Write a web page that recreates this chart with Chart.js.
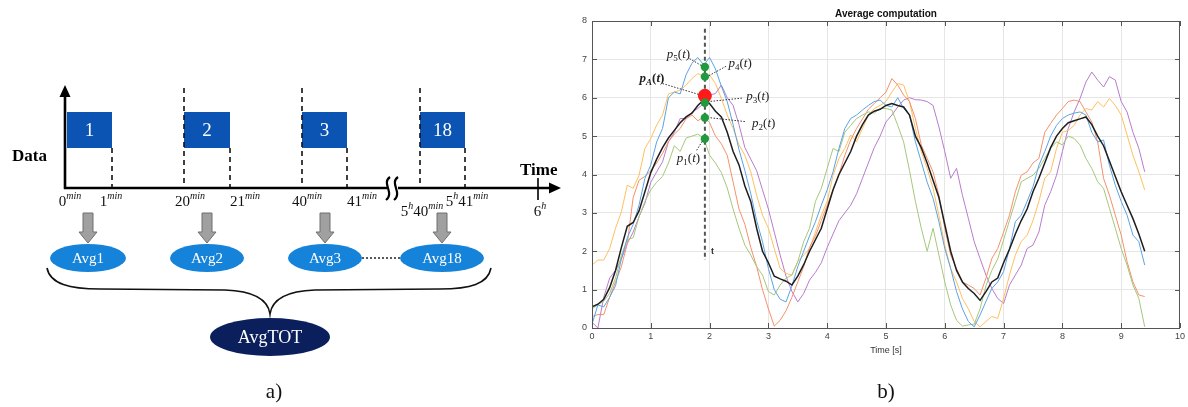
<!DOCTYPE html>
<html>
<head>
<meta charset="utf-8">
<script src="https://cdn.jsdelivr.net/npm/chart.js@4.4.1/dist/chart.umd.min.js"></script>
<style>
  html, body { margin: 0; padding: 0; background: #fff; }
  canvas { display: block; }
</style>
</head>
<body>
<canvas id="myChart" width="1188" height="407"></canvas>
<script>
// sampling step of the curves, seconds
const dt = 0.1;

// values, one per 0.1 s from 0 to 9.4 s
const avgValues = [
  0.55, 0.62, 0.75, 1.05, 1.5, 2.1, 2.65, 2.75, 3.05, 3.55,
  4.05, 4.4, 4.7, 4.95, 5.15, 5.35, 5.5, 5.6, 5.8, 5.95,
  5.85, 5.65, 5.5, 5.1, 4.6, 4.25, 3.7, 3.3, 2.6, 2.0,
  1.7, 1.35, 1.28, 1.22, 1.12, 1.35, 1.65, 2.0, 2.3, 2.6,
  3.1, 3.6, 4.0, 4.3, 4.6, 5.0, 5.3, 5.55, 5.65, 5.7,
  5.8, 5.85, 5.8, 5.76, 5.55, 5.0, 4.7, 4.3, 3.85, 3.4,
  2.7, 2.0, 1.5, 1.2, 1.03, 0.9, 0.72, 0.95, 1.2, 1.3,
  1.7, 2.05, 2.45, 2.8, 3.1, 3.55, 3.9, 4.3, 4.7, 5.0,
  5.2, 5.35, 5.4, 5.45, 5.5, 5.3, 5.0, 4.75, 4.35, 3.95,
  3.55, 3.2, 2.85, 2.45, 2.0
];
const p5Values = [
  0.1, 0.6, 0.55, 0.8, 1.1, 1.8, 2.35, 2.7, 3.2, 3.9,
  4.25, 4.85, 5.2, 6.0, 6.15, 6.1, 6.6, 6.9, 7.05, 6.85,
  7.05, 6.75, 6.3, 5.9, 5.3, 4.65, 4.1, 3.5, 2.8, 2.25,
  1.55, 1.0, 0.75, 0.68, 1.1, 1.6, 2.0, 2.4, 2.77, 3.2,
  3.6, 4.07, 4.68, 5.2, 5.46, 5.55, 5.68, 5.8, 5.9, 5.94,
  5.8, 5.76, 6.0, 5.72, 5.55, 4.85, 4.33, 3.8, 3.38, 2.77,
  2.07, 1.55, 0.95, 0.5, 0.17, 0.03, 0.34, 0.69, 1.03, 1.2,
  1.47, 2.07, 2.77, 2.94, 3.3, 3.68, 4.24, 4.6, 5.0, 5.28,
  5.46, 5.55, 5.6, 5.63, 5.55, 5.1, 4.85, 4.9, 4.24, 3.72,
  3.3, 2.94, 2.42, 2.25, 1.64
];
const p4Values = [
  1.64, 1.77, 1.77, 2.07, 2.6, 3.03, 3.72, 3.64, 3.98, 4.68,
  4.94, 5.29, 5.55, 6.1, 6.15, 6.2, 6.33, 6.5, 6.63, 6.55,
  6.59, 6.37, 5.98, 5.55, 5.2, 4.77, 4.5, 4.07, 3.46, 2.94,
  2.6, 2.07, 1.55, 1.42, 1.38, 1.73, 1.9, 2.07, 2.5, 2.94,
  3.3, 3.98, 4.42, 4.68, 5.03, 4.85, 5.2, 5.55, 5.72, 5.8,
  5.9, 6.15, 6.37, 6.33, 5.9, 5.2, 4.6, 4.16, 3.64, 2.94,
  2.16, 1.55, 1.2, 0.77, 0.5, 0.17, 0.03, 0.17, 0.3, 0.25,
  0.77, 1.38, 1.9, 2.25, 2.42, 2.8, 3.3, 3.9, 4.07, 4.68,
  5.1, 5.15, 5.28, 5.55, 5.72, 5.68, 5.9, 5.76, 5.98, 5.8,
  5.55, 5.03, 4.5, 4.07, 3.6
];
const p3Values = [
  0.15, 0.0, 0.8, 1.3, 1.5, 1.8, 2.2, 2.5, 2.9, 3.25,
  3.8, 4.07, 4.33, 4.85, 5.1, 5.46, 5.46, 5.63, 5.72, 5.85,
  6.07, 6.11, 6.33, 6.0, 5.8, 5.3, 4.7, 4.4, 4.1, 3.6,
  3.1, 2.5, 1.9, 1.35, 0.95, 0.68, 0.9, 1.25, 1.45, 1.7,
  2.1, 2.45, 2.8, 3.0, 3.2, 3.5, 3.9, 4.3, 4.7, 5.0,
  5.37, 5.55, 5.76, 5.94, 6.0, 5.95, 5.94, 5.9, 5.8, 5.24,
  4.6, 3.9, 4.16, 3.46, 2.86, 2.25, 1.81, 1.38, 1.03, 0.77,
  0.64, 1.12, 1.38, 1.64, 2.07, 2.16, 2.5, 3.2, 3.55, 3.98,
  4.6, 5.2, 5.63, 5.98, 6.41, 6.67, 6.46, 6.28, 6.55, 6.46,
  5.9, 5.63, 5.1, 4.68, 4.07
];
const p2Values = [
  0.3, 0.35, 0.35, 0.8, 1.2, 1.6, 2.2, 3.4, 3.85, 3.95,
  4.1, 4.3, 4.55, 4.85, 5.05, 5.2, 5.45, 5.55, 5.4, 5.5,
  5.35, 5.0, 4.8, 4.5, 3.8, 3.1, 2.7, 2.1, 1.6, 1.0,
  0.5, 0.05, 0.2, 0.45, 0.8, 1.2, 1.6, 2.1, 2.4, 2.8,
  3.2, 3.6, 4.0, 4.5, 4.9, 5.2, 5.45, 5.7, 5.85, 6.0,
  6.15, 6.5, 6.33, 6.07, 5.9, 5.46, 4.77, 4.42, 4.07, 3.46,
  2.6, 1.9, 1.55, 1.2, 1.12, 1.03, 0.86, 1.3, 1.81, 2.07,
  2.5, 2.94, 3.55, 3.98, 4.07, 4.3, 4.42, 5.1, 5.33, 5.55,
  5.72, 5.9, 5.94, 5.9, 5.63, 5.37, 4.85, 3.9, 3.46, 2.94,
  2.42, 1.73, 1.2, 0.86, 0.82
];
const p1Values = [
  0.5, 0.6, 0.7, 0.9, 1.3, 1.9, 2.3, 2.35, 2.9, 3.3,
  3.6, 3.8, 3.95, 4.3, 4.75, 4.6, 4.95, 5.0, 5.05, 4.95,
  4.5, 4.3, 4.05, 3.65, 3.1, 2.6, 2.16, 1.9, 1.6, 1.38,
  0.95, 0.86, 1.12, 1.3, 1.38, 1.73, 2.25, 2.6, 3.3, 3.64,
  4.16, 4.68, 4.6, 5.1, 5.28, 5.46, 5.55, 5.63, 5.6, 5.72,
  5.72, 5.68, 5.28, 4.85, 4.1, 3.3, 2.6, 2.0, 2.6, 1.9,
  1.2, 0.6, 0.2, 0.05, 0.08, 0.1, 0.5, 1.1, 1.5, 1.8,
  2.3, 2.8, 3.3, 3.81, 3.9, 3.98, 4.16, 4.42, 4.68, 4.85,
  4.77, 5.0, 4.94, 4.77, 4.42, 4.16, 3.81, 3.64, 3.12, 2.6,
  2.07, 1.64, 1.12, 0.77, 0.03
];

// sampled instant and the samples taken there
const sampleTime = 1.92;
const sampleLabels = ["5", "4", "A", "3", "2", "1"];
const sampleValues = [6.8, 6.55, 6.05, 5.87, 5.48, 4.93];
const cursorRange = [7.8, 1.77];

// axis ticks
const xTicks = [0, 1, 2, 3, 4, 5, 6, 7, 8, 9, 10];
const yTicks = [0, 1, 2, 3, 4, 5, 6, 7, 8];

// left diagram: windows and averages
const windowLabels = ["1", "2", "3", "18"];
const avgLabels = ["Avg1", "Avg2", "Avg3", "Avg18"];

const toXY = arr => arr.map((v, i) => ({ x: Math.round(i * dt * 10) / 10, y: v }));

function lineSet(label, values, color, width, order) {
  return {
    label: label,
    data: toXY(values),
    borderColor: color,
    borderWidth: width,
    pointRadius: 0,
    tension: 0,
    order: order,
  };
}

const greenIdx = [0, 1, 3, 4, 5];
const redIdx = [2];

// label position (t, v) and leader line from/to, in data units
const labelSpots = [
  { tx: 1.47, ty: 7.14, from: [1.66, 7.02], to: [1.88, 6.82] },
  { tx: 2.52, ty: 6.9, from: [2.28, 6.82], to: [1.97, 6.56] },
  { tx: 1.02, ty: 6.52, from: [1.2, 6.37], to: [1.83, 6.08] },
  { tx: 2.82, ty: 6.05, from: [2.55, 5.99], to: [1.98, 5.9] },
  { tx: 2.92, ty: 5.33, from: [2.6, 5.38], to: [2.0, 5.48] },
  { tx: 1.64, ty: 4.42, from: [1.78, 4.63], to: [1.88, 4.88] },
];

// ---- drawing helpers for the diagram ----
function serif(size, style) {
  return (style || "") + " " + size + 'px "Liberation Serif", "DejaVu Serif", serif';
}

function drawParts(ctx, cx, y, parts) {
  // parts: [text, font, dy]
  let w = 0;
  parts.forEach(p => { ctx.font = p[1]; w += ctx.measureText(p[0]).width; });
  let x = cx - w / 2;
  ctx.textAlign = "left";
  ctx.textBaseline = "alphabetic";
  parts.forEach(p => {
    ctx.font = p[1];
    ctx.fillText(p[0], x, y + (p[2] || 0));
    x += ctx.measureText(p[0]).width;
  });
}

function timeLabel(ctx, cx, y, pieces) {
  const parts = [];
  pieces.forEach(pc => {
    parts.push([pc[0], serif(15)]);
    parts.push([pc[1], serif(10, "italic"), -7]);
  });
  drawParts(ctx, cx, y, parts);
}

function dashed(ctx, x, y1, y2) {
  ctx.save();
  ctx.setLineDash([5, 4]);
  ctx.lineWidth = 1.6;
  ctx.strokeStyle = "#111";
  ctx.beginPath();
  ctx.moveTo(x, y1);
  ctx.lineTo(x, y2);
  ctx.stroke();
  ctx.restore();
}

function grayArrow(ctx, cx) {
  ctx.beginPath();
  ctx.moveTo(cx - 5, 213);
  ctx.lineTo(cx + 5, 213);
  ctx.lineTo(cx + 5, 232);
  ctx.lineTo(cx + 9, 232);
  ctx.lineTo(cx, 243);
  ctx.lineTo(cx - 9, 232);
  ctx.lineTo(cx - 5, 232);
  ctx.closePath();
  ctx.fillStyle = "#a0a0a0";
  ctx.fill();
  ctx.lineWidth = 1;
  ctx.strokeStyle = "#6e6e6e";
  ctx.stroke();
}

function ellipse(ctx, cx, cy, rx, ry, fill, text, size) {
  ctx.beginPath();
  ctx.ellipse(cx, cy, rx, ry, 0, 0, Math.PI * 2);
  ctx.fillStyle = fill;
  ctx.fill();
  ctx.fillStyle = "#fff";
  ctx.font = serif(size);
  ctx.textAlign = "center";
  ctx.textBaseline = "middle";
  ctx.fillText(text, cx, cy + 1);
}

const diagramPlugin = {
  id: "diagram",
  afterDraw(chart) {
    const ctx = chart.ctx;
    ctx.save();

    // blue data windows
    const rects = [[67, 112], [184, 230], [302, 347], [420, 465]];
    rects.forEach((r, i) => {
      ctx.fillStyle = "#0b54b4";
      ctx.fillRect(r[0], 112, r[1] - r[0], 36);
      ctx.fillStyle = "#fff";
      ctx.font = serif(19);
      ctx.textAlign = "center";
      ctx.textBaseline = "middle";
      ctx.fillText(windowLabels[i], (r[0] + r[1]) / 2, 131);
    });

    // dashed guides
    dashed(ctx, 112, 148, 188);
    dashed(ctx, 184, 88, 188);
    dashed(ctx, 230, 148, 188);
    dashed(ctx, 302, 88, 188);
    dashed(ctx, 347, 148, 188);
    dashed(ctx, 420, 88, 188);
    dashed(ctx, 465, 148, 188);

    // axes
    ctx.strokeStyle = "#000";
    ctx.fillStyle = "#000";
    ctx.lineWidth = 2.6;
    ctx.beginPath();
    ctx.moveTo(65, 189);
    ctx.lineTo(65, 94);
    ctx.moveTo(64, 188);
    ctx.lineTo(387, 188);
    ctx.moveTo(398, 188);
    ctx.lineTo(552, 188);
    ctx.stroke();
    ctx.beginPath();
    ctx.moveTo(65, 85);
    ctx.lineTo(70.5, 97);
    ctx.lineTo(59.5, 97);
    ctx.closePath();
    ctx.fill();
    ctx.beginPath();
    ctx.moveTo(561, 188);
    ctx.lineTo(549, 182.5);
    ctx.lineTo(549, 193.5);
    ctx.closePath();
    ctx.fill();

    // axis break
    ctx.lineWidth = 2.2;
    [388, 396].forEach(x => {
      ctx.beginPath();
      ctx.moveTo(x + 2, 177);
      ctx.bezierCurveTo(x - 7, 183, x + 7, 193, x - 2, 200);
      ctx.stroke();
    });

    // 6h tick
    ctx.lineWidth = 1.6;
    ctx.beginPath();
    ctx.moveTo(538, 178);
    ctx.lineTo(538, 200);
    ctx.stroke();

    ctx.font = serif(17, "bold");
    ctx.textAlign = "left";
    ctx.textBaseline = "middle";
    ctx.fillText("Data", 12, 157);
    ctx.fillText("Time", 520, 171);

    // tick labels
    ctx.fillStyle = "#111";
    timeLabel(ctx, 70, 206, [["0", "min"]]);
    timeLabel(ctx, 111, 206, [["1", "min"]]);
    timeLabel(ctx, 190, 206, [["20", "min"]]);
    timeLabel(ctx, 245, 206, [["21", "min"]]);
    timeLabel(ctx, 307, 206, [["40", "min"]]);
    timeLabel(ctx, 362, 206, [["41", "min"]]);
    timeLabel(ctx, 422, 216, [["5", "h"], ["40", "min"]]);
    timeLabel(ctx, 467, 206, [["5", "h"], ["41", "min"]]);
    timeLabel(ctx, 540, 216, [["6", "h"]]);

    // arrows and partial averages
    const centers = [88, 207, 325, 442];
    centers.forEach(c => grayArrow(ctx, c));
    const radii = [38, 37, 37, 42];
    centers.forEach((c, i) => ellipse(ctx, c, 258, radii[i], 14, "#1583d9", avgLabels[i], 15));

    ctx.save();
    ctx.setLineDash([2, 2]);
    ctx.lineWidth = 1.5;
    ctx.strokeStyle = "#222";
    ctx.beginPath();
    ctx.moveTo(362, 258);
    ctx.lineTo(400, 258);
    ctx.stroke();
    ctx.restore();

    // brace
    ctx.lineWidth = 1.6;
    ctx.strokeStyle = "#111";
    ctx.beginPath();
    ctx.moveTo(47, 268);
    ctx.bezierCurveTo(50, 284, 70, 289, 100, 289);
    ctx.lineTo(225, 290);
    ctx.bezierCurveTo(255, 291, 268, 300, 270, 314);
    ctx.bezierCurveTo(272, 300, 285, 291, 315, 290);
    ctx.lineTo(440, 289);
    ctx.bezierCurveTo(470, 289, 488, 284, 491, 268);
    ctx.stroke();

    ellipse(ctx, 270, 337, 60, 19, "#0b1f5c", "AvgTOT", 18);

    // panel letters
    ctx.fillStyle = "#111";
    ctx.font = serif(21);
    ctx.textAlign = "center";
    ctx.textBaseline = "middle";
    ctx.fillText("a)", 274, 392);
    ctx.fillText("b)", 886, 392);

    ctx.restore();
  },
};

const annotationPlugin = {
  id: "annotations",
  afterDatasetsDraw(chart) {
    const ctx = chart.ctx;
    const xs = chart.scales.x;
    const ys = chart.scales.y;
    const area = chart.chartArea;
    ctx.save();

    // box and inward ticks
    ctx.strokeStyle = "#555";
    ctx.lineWidth = 1;
    ctx.strokeRect(area.left + 0.5, area.top + 0.5, area.right - area.left - 1, area.bottom - area.top);
    ctx.beginPath();
    xTicks.forEach(v => {
      const x = Math.round(xs.getPixelForValue(v)) + 0.5;
      ctx.moveTo(x, area.bottom);
      ctx.lineTo(x, area.bottom - 5);
      ctx.moveTo(x, area.top);
      ctx.lineTo(x, area.top + 5);
    });
    yTicks.forEach(v => {
      const y = Math.round(ys.getPixelForValue(v)) + 0.5;
      ctx.moveTo(area.left, y);
      ctx.lineTo(area.left + 5, y);
      ctx.moveTo(area.right, y);
      ctx.lineTo(area.right - 5, y);
    });
    ctx.stroke();

    // leader lines
    ctx.setLineDash([1.5, 1.5]);
    ctx.strokeStyle = "#333";
    ctx.lineWidth = 1;
    labelSpots.forEach(s => {
      ctx.beginPath();
      ctx.moveTo(xs.getPixelForValue(s.from[0]), ys.getPixelForValue(s.from[1]));
      ctx.lineTo(xs.getPixelForValue(s.to[0]), ys.getPixelForValue(s.to[1]));
      ctx.stroke();
    });
    ctx.setLineDash([]);

    // p_i(t) labels
    ctx.fillStyle = "#222";
    labelSpots.forEach((s, i) => {
      const bold = sampleLabels[i] === "A";
      const st = bold ? "bold italic" : "italic";
      drawParts(ctx, xs.getPixelForValue(s.tx), ys.getPixelForValue(s.ty) + 4, [
        ["p", serif(13, st)],
        [sampleLabels[i], serif(9, bold ? "bold italic" : ""), 3],
        ["(", serif(13, bold ? "bold" : "")],
        ["t", serif(13, st)],
        [")", serif(13, bold ? "bold" : "")],
      ]);
    });

    // "t" under the cursor
    ctx.font = 'bold 9px "Liberation Sans", Arial, sans-serif';
    ctx.textAlign = "left";
    ctx.textBaseline = "middle";
    ctx.fillStyle = "#333";
    ctx.fillText("t", xs.getPixelForValue(sampleTime) + 6, ys.getPixelForValue(2.0));

    ctx.restore();
  },
};

const tickFont = { family: '"Liberation Sans", Arial, sans-serif', size: 9 };

const ctx = document.getElementById("myChart").getContext("2d");
const myChart = new Chart(ctx, {
  type: "line",
  data: {
    datasets: [
      {
        label: "samples",
        data: greenIdx.map(i => ({ x: sampleTime, y: sampleValues[i] })),
        showLine: false,
        pointRadius: 4.2,
        pointBackgroundColor: "#1f9a3c",
        pointBorderWidth: 0,
        order: 0,
      },
      {
        label: "average sample",
        data: redIdx.map(i => ({ x: sampleTime, y: sampleValues[i] })),
        showLine: false,
        pointRadius: 7,
        pointBackgroundColor: "#ff1a1a",
        pointBorderWidth: 0,
        order: 0,
      },
      {
        label: "cursor",
        data: cursorRange.map(v => ({ x: sampleTime, y: v })),
        borderColor: "#555",
        borderWidth: 2,
        borderDash: [4, 3],
        pointRadius: 0,
        order: 1,
      },
      lineSet("average", avgValues, "#1e1e1e", 1.5, 2),
      lineSet("p5", p5Values, "#5aa2e4", 1, 3),
      lineSet("p1", p1Values, "#a5c77a", 1, 4),
      lineSet("p2", p2Values, "#f5906a", 1, 5),
      lineSet("p4", p4Values, "#ffbf5e", 1, 6),
      lineSet("p3", p3Values, "#b77ccb", 1, 7),
    ],
  },
  options: {
    responsive: false,
    animation: false,
    layout: { padding: { left: 575, right: 6, top: 0, bottom: 51 } },
    plugins: {
      legend: { display: false },
      tooltip: { enabled: false },
      title: {
        display: true,
        fullSize: false,
        text: "Average computation",
        color: "#111",
        font: { family: '"Liberation Sans", Arial, sans-serif', size: 10, weight: "bold" },
        padding: { top: 8, bottom: 1 },
      },
    },
    scales: {
      x: {
        type: "linear",
        min: 0,
        max: 10,
        afterBuildTicks: s => { s.ticks = xTicks.map(v => ({ value: v })); },
        ticks: { font: tickFont, color: "#444", padding: 3, maxRotation: 0 },
        grid: { color: "#e6e6e6", drawTicks: false },
        border: { color: "#555" },
        title: { display: true, text: "Time [s]", font: tickFont, color: "#333", padding: 0 },
        afterFit: s => { s.height = 28; },
      },
      y: {
        min: 0,
        max: 8,
        afterBuildTicks: s => { s.ticks = yTicks.map(v => ({ value: v })); },
        ticks: { font: tickFont, color: "#444", padding: 5 },
        grid: { color: "#e6e6e6", drawTicks: false },
        border: { color: "#555" },
        afterFit: s => { s.width = 17; },
      },
    },
  },
  plugins: [diagramPlugin, annotationPlugin],
});
</script>
</body>
</html>
